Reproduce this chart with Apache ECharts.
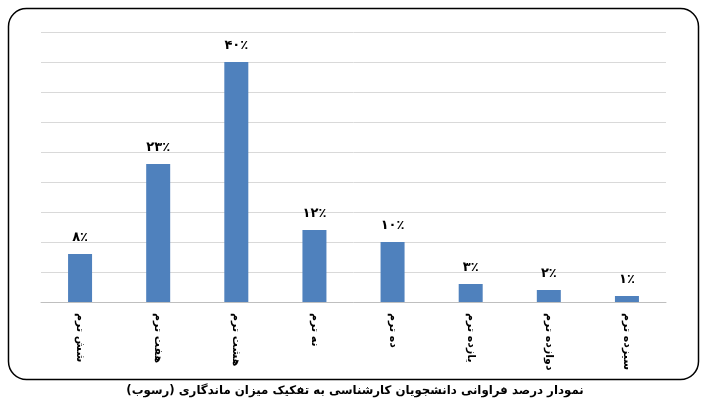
<!DOCTYPE html>
<html>
<head>
	<meta charset="utf-8" />
	<script src="https://cdn.jsdelivr.net/npm/echarts@6/dist/echarts.min.js"></script>
	<style>
		html, body { margin: 0; padding: 0; background: #fff; }
	</style>
</head>
<body>
	<div id="main" style="width: 710px;height:403px;"></div>

	<script type="text/javascript">
		// دسته‌ها و مقادیر (درصد)
		var categories = ['شش ترم', 'هفت ترم', 'هشت ترم', 'نه ترم', 'ده ترم', 'یازده ترم', 'دوازده ترم', 'سیزده ترم'];
		var values = [8, 23, 40, 12, 10, 3, 2, 1];
		var caption = 'نمودار درصد فراوانی دانشجویان کارشناسی به تفکیک میزان ماندگاری (رسوب)';

		var faDigits = '۰۱۲۳۴۵۶۷۸۹';
		function toFa(n) {
			return String(n).replace(/[0-9]/g, function (d) { return faDigits[+d]; });
		}

		var myChart = echarts.init(document.getElementById('main'));

		var option = {
			backgroundColor: '#fff',
			animation: false,
			graphic: [
				{
					type: 'rect',
					shape: { x: 8.5, y: 8.5, width: 690, height: 371, r: 18 },
					style: { fill: 'none', stroke: '#000', lineWidth: 1.5 }
				},
				{
					type: 'text',
					left: 'center',
					top: 385,
					style: {
						text: caption,
						font: 'bold 11.8px "DejaVu Sans"',
						fill: '#000'
					}
				}
			],
			grid: { left: 41, right: 44, top: 32, bottom: 101 },
			xAxis: {
				type: 'category',
				data: categories,
				axisTick: { show: false },
				axisLine: { lineStyle: { color: '#bfbfbf' } },
				axisLabel: {
					interval: 0,
					rotate: -90,
					margin: 11,
					fontSize: 11,
					fontWeight: 'bold',
					fontFamily: 'DejaVu Sans',
					color: '#000'
				}
			},
			yAxis: {
				type: 'value',
				min: 0,
				max: 45,
				interval: 5,
				axisLabel: { show: false },
				axisLine: { show: false },
				axisTick: { show: false },
				splitLine: { lineStyle: { color: '#d9d9d9' } }
			},
			series: [
				{
					type: 'bar',
					data: values,
					barWidth: 24,
					itemStyle: { color: '#4f81bd' },
					label: {
						show: true,
						position: 'top',
						distance: 10,
						fontSize: 13,
						fontWeight: 'bold',
						fontFamily: 'DejaVu Sans',
						color: '#000',
						formatter: function (p) { return toFa(p.value) + '٪'; }
					}
				}
			]
		};

		myChart.setOption(option);
	</script>
</body>
</html>
